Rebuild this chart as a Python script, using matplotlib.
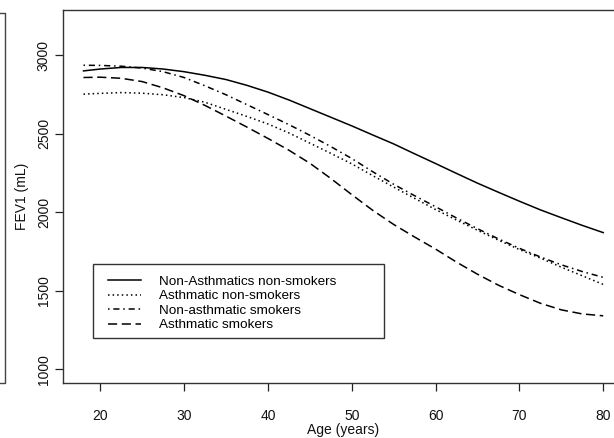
import matplotlib
matplotlib.use("Agg")
import matplotlib.pyplot as plt
from matplotlib.patches import Rectangle
from matplotlib.lines import Line2D

plt.rcParams['font.family'] = ['Liberation Sans', 'DejaVu Sans']

# ages at which the curves were read (years)
age = [18, 20, 22.5, 25, 27.5, 30, 32.5, 35, 37.5, 40, 42.5, 45, 47.5, 50,
       52.5, 55, 57.5, 60, 62.5, 65, 67.5, 70, 72.5, 75, 77.5, 80]

# FEV1 (mL)
nonasth_nonsmk = [2900, 2912, 2922, 2922, 2912, 2895, 2872, 2845, 2808, 2765,
                  2715, 2660, 2605, 2550, 2492, 2435, 2372, 2310, 2247, 2185,
                  2127, 2070, 2015, 1965, 1916, 1870]
asth_nonsmk = [2752, 2757, 2762, 2758, 2748, 2730, 2700, 2655, 2610, 2562,
               2505, 2440, 2375, 2308, 2233, 2160, 2088, 2017, 1950, 1885,
               1822, 1762, 1708, 1650, 1595, 1540]
nonasth_smk = [2936, 2935, 2930, 2918, 2895, 2858, 2805, 2748, 2685, 2622,
               2558, 2490, 2418, 2342, 2258, 2178, 2105, 2035, 1963, 1895,
               1830, 1770, 1715, 1665, 1622, 1585]
asth_smk = [2858, 2860, 2853, 2832, 2792, 2742, 2680, 2612, 2542, 2470,
            2395, 2312, 2215, 2112, 2012, 1922, 1842, 1765, 1682, 1605,
            1535, 1475, 1420, 1378, 1352, 1340]

labels = ['Non-Asthmatics non-smokers', 'Asthmatic non-smokers',
          'Non-asthmatic smokers', 'Asthmatic smokers']

xticks = [20, 30, 40, 50, 60, 70, 80]
yticks = [1000, 1500, 2000, 2500, 3000]

W, H = 614, 438
fig = plt.figure(figsize=(W / 100, H / 100), dpi=100)
ax = fig.add_axes([62.7 / W, (H - 383) / H, (624 - 62.7) / W, 373 / H])

lw = 1.1
ax.plot(age, nonasth_nonsmk, color='black', lw=lw, linestyle='-', label=labels[0])
ax.plot(age, asth_nonsmk, color='black', lw=lw, linestyle=(0, (1, 2)), label=labels[1])
ax.plot(age, nonasth_smk, color='black', lw=lw, linestyle=(0, (1, 2.5, 4, 2.5)), label=labels[2])
ax.plot(age, asth_smk, color='black', lw=lw, linestyle=(0, (6, 3)), label=labels[3])

ax.set_xlim(15.52, 82.48)
ax.set_ylim(912, 3288)
ax.set_xticks(xticks)
ax.set_yticks(yticks)
ax.set_yticklabels([str(v) for v in yticks], rotation=90, va='center')
ax.tick_params(axis='both', direction='out', length=5.5, width=0.9, colors='#222222',
               labelsize=10, labelcolor='#111111')
ax.tick_params(axis='x', pad=13)
ax.tick_params(axis='y', pad=3)
for s in ax.spines.values():
    s.set_color('#333333')
    s.set_linewidth(1.0)

ax.set_xlabel('Age (years)', fontsize=10, color='#111111', labelpad=0.3)
ax.set_ylabel('FEV1 (mL)', fontsize=10, color='#111111', labelpad=6)

# legend box drawn separately, R style
ax.add_patch(Rectangle((0.0534, 0.1198), 0.5196, 0.199, transform=ax.transAxes,
                       fill=False, edgecolor='#333333', lw=1.0, zorder=5))
ax.legend(loc='upper left', bbox_to_anchor=(0.0812, 0.289), frameon=False,
          borderpad=0, borderaxespad=0, fontsize=9.7, handlelength=2.44,
          handletextpad=1.29, labelspacing=0.16)

# edge of the neighbouring panel on the left
fig.add_artist(Line2D([0, 4.7 / W, 4.7 / W, 0],
                      [1 - 13.3 / H, 1 - 13.3 / H, 1 - 382.7 / H, 1 - 382.7 / H],
                      transform=fig.transFigure, color='#444444', lw=1.0))

fig.savefig('out.png', dpi=100)
